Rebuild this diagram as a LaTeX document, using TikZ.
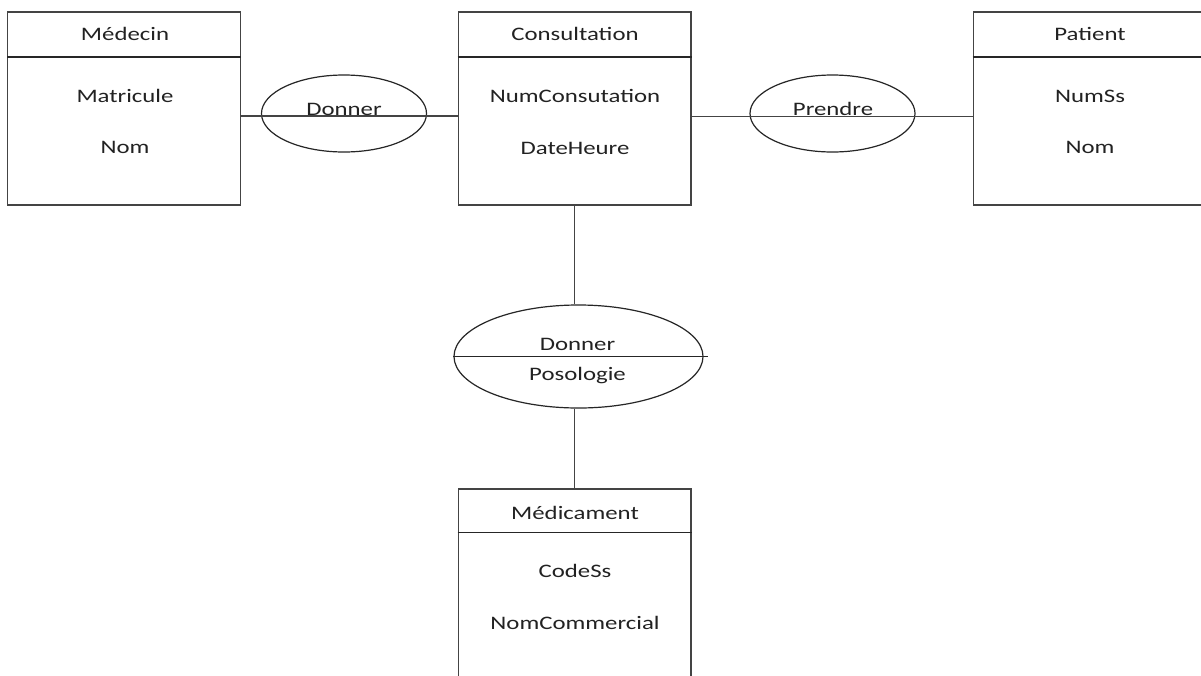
\documentclass[tikz,border=0pt]{standalone}
\usepackage{fontspec}
\setmainfont{Carlito}[FakeStretch=1.3]
\usetikzlibrary{shapes.geometric}
\definecolor{ink}{HTML}{222222}
\definecolor{frame}{HTML}{444444}
\definecolor{rule}{HTML}{262626}
\begin{document}
\begin{tikzpicture}[x=0.75pt,y=-0.75pt,
  entity/.style={draw=frame, line width=1pt, rectangle, inner sep=0pt,
                 minimum width=174.5pt, minimum height=144.75pt},
  headrule/.style={draw=rule, line width=1.7pt},
  relation/.style={draw=rule, line width=0.9pt, ellipse, inner sep=0pt},
  link/.style={draw=frame, line width=1pt},
  lbl/.style={text=ink, font=\fontsize{14.3}{16}\selectfont, inner sep=0pt, anchor=base}]
  % canvas
  \fill[white] (0,0) rectangle (1201,675);
  \clip (0,0) rectangle (1201,675);

  % entities
  \node[entity] (medecin) at (124,108.5) {};
  \node[entity] (consult) at (574.5,108.5) {};
  \node[entity] (patient) at (1089.5,108.5) {};
  \node[entity] (medic)   at (574.5,585.5) {};

  % header separators
  \foreach \e in {medecin,consult,patient}
    \draw[headrule] ([yshift=-34.5pt]\e.north west) -- ([yshift=-34.5pt]\e.north east);
  \draw[headrule, line width=1.2pt] ([yshift=-33pt]medic.north west) -- ([yshift=-33pt]medic.north east);

  % relations
  \node[relation, minimum width=123.75pt, minimum height=57.75pt] (donner)  at (344,113.5) {};
  \node[relation, minimum width=123.75pt, minimum height=57.75pt] (prendre) at (832.5,113.5) {};
  \node[relation, minimum width=186.75pt, minimum height=77.25pt] (posol)   at (578.5,356.5) {};
  \draw[rule, line width=1pt] (posol.west) -- ([xshift=3.5pt]posol.east);

  % connectors
  \draw[link] ([yshift=-5.6pt]medecin.east) -- ([yshift=-5.6pt]consult.west);
  \draw[link] ([yshift=-6.2pt]consult.east) -- ([yshift=-6.2pt]patient.west);
  \draw[link] (consult.south) -- (consult.south |- posol.north);
  \draw[link] (medic.north |- posol.south) -- (medic.north);

  % entity titles
  \node[lbl] (tMed) at (125,40.5)  {Médecin};
  \node[lbl] (tCon) at (575,40.5)  {Consultation};
  \node[lbl] (tPat) at (1090,40.5) {Patient};
  \node[lbl] (tMdc) at (575,519)   {Médicament};

  % attributes
  \node[lbl] (aMat) at (125,102) {Matricule};
  \node[lbl] (aNom) at (125,153) {Nom};
  \node[lbl] (aNum) at (575,102) {NumConsutation};
  \node[lbl] (aDat) at (575,154) {DateHeure};
  \node[lbl] (aSs)  at (1090,102) {NumSs};
  \node[lbl] (aPn)  at (1090,153) {Nom};
  \node[lbl] (aCod) at (575,577) {CodeSs};
  \node[lbl] (aCom) at (575,629) {NomCommercial};

  % relation labels
  \node[lbl] (rDon) at (344,115.5) {Donner};
  \node[lbl] (rPre) at (833,115.5) {Prendre};
  \node[lbl] (rDo2) at (577.5,350) {Donner};
  \node[lbl] (rPos) at (577.5,380) {Posologie};
\end{tikzpicture}
\end{document}
